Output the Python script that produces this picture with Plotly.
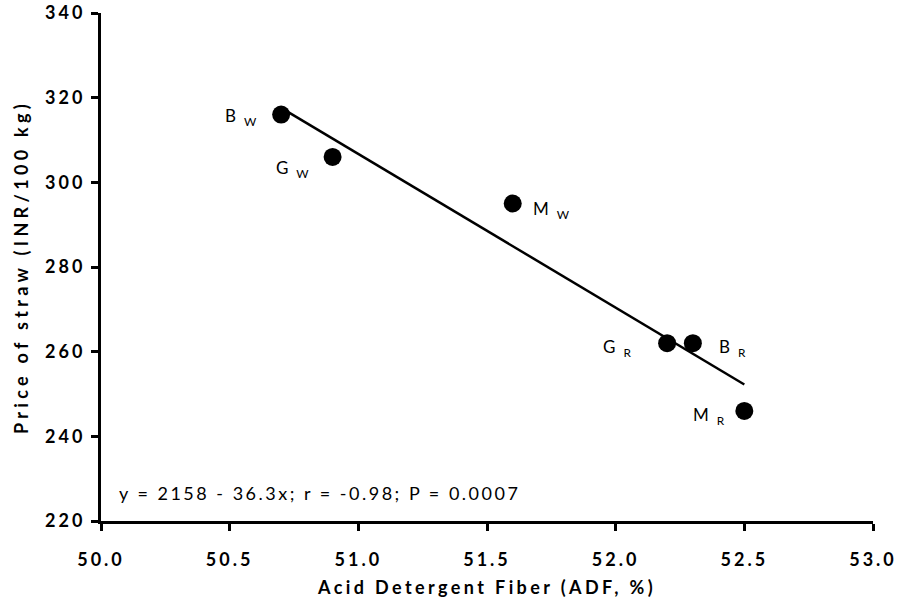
import plotly.graph_objects as go

# Data
adf = [50.7, 50.9, 51.6, 52.2, 52.3, 52.5]
price = [316, 306, 295, 262, 262, 246]
labels = ["B", "G", "M", "G", "B", "M"]
subs = ["W", "W", "W", "R", "R", "R"]
intercept = 2158
slope = -36.3
fit_x = [min(adf), max(adf)]
fit_y = [intercept + slope * v for v in fit_x]
x_ticks = [50.0, 50.5, 51.0, 51.5, 52.0, 52.5, 53.0]
y_ticks = [220, 240, 260, 280, 300, 320, 340]
equation = "y = 2158 - 36.3x; r = -0.98; P = 0.0007"

FONT = "Lato"

fig = go.Figure()
fig.add_trace(go.Scatter(x=fit_x, y=fit_y, mode="lines",
                         line=dict(color="black", width=2.5), showlegend=False,
                         hoverinfo="skip"))
fig.add_trace(go.Scatter(x=adf, y=price, mode="markers",
                         marker=dict(color="black", size=18), showlegend=False))

annots = [dict(x=0.021, y=0.055, xref="paper", yref="paper", xanchor="left",
               yanchor="middle", showarrow=False, text=equation,
               font=dict(family=FONT, size=18, color="black"))]

# label placement (pixel offsets from the point): (side, xshift, yshift)
place = [("right", -20, -2), ("right", -20, -12), ("left", 18, -6),
         ("right", -32, -5), ("left", 24, -5), ("right", -15, -5)]
for xv, yv, lab, sb, (side, xs, ys) in zip(adf, price, labels, subs, place):
    annots.append(dict(x=xv, y=yv, xref="x", yref="y", xanchor=side,
                       yanchor="middle", xshift=xs, yshift=ys, showarrow=False,
                       text=f"{lab}<sub> {sb}</sub>",
                       font=dict(family=FONT, size=17, color="black")))

fig.update_layout(
    width=898, height=604,
    margin=dict(l=101, r=25, t=13, b=83, autoexpand=False),
    paper_bgcolor="white", plot_bgcolor="white",
    annotations=annots,
    xaxis=dict(range=[50, 53], tickvals=x_ticks, tickformat=".1f",
               showgrid=False, zeroline=False, showline=True, linecolor="black",
               linewidth=3, ticks="outside", ticklen=7, tickwidth=3,
               tickcolor="black", ticklabelstandoff=13, automargin=False,
               tickfont=dict(family=FONT, size=18, color="black", weight="bold"),
               title=dict(text="Acid Detergent Fiber (ADF, %)", standoff=13,
                          font=dict(family=FONT, size=18, color="black", weight="bold"))),
    yaxis=dict(range=[220, 340], tickvals=y_ticks,
               showgrid=False, zeroline=False, showline=True, linecolor="black",
               linewidth=3, ticks="outside", ticklen=7, tickwidth=3,
               tickcolor="black", ticklabelstandoff=2, automargin=False,
               tickfont=dict(family=FONT, size=18, color="black", weight="bold"),
               title=dict(text="Price of straw (INR/100 kg)", standoff=12,
                          font=dict(family=FONT, size=18, color="black", weight="bold"))),
)

post = """
document.body.style.margin = '0';
var gd = document.getElementById('{plot_id}');
var s = document.createElement('style');
s.textContent = '.xtick text, .ytick text {letter-spacing:3px;} ' +
  'text.xtitle {letter-spacing:3.4px;} text.ytitle {letter-spacing:4.3px;} ' +
  'text.annotation-text {letter-spacing:2.5px;}';
document.head.appendChild(s);
var upd = {'xaxis.tickfont.size': 18.01, 'yaxis.tickfont.size': 18.01,
           'xaxis.title.font.size': 18.01, 'yaxis.title.font.size': 18.01};
for (var i = 0; i < gd.layout.annotations.length; i++) {
  upd['annotations[' + i + '].font.size'] = gd.layout.annotations[i].font.size + 0.01;
}
Plotly.relayout(gd, upd);
"""
fig.write_html("out.html", post_script=post, config={"displayModeBar": False})
